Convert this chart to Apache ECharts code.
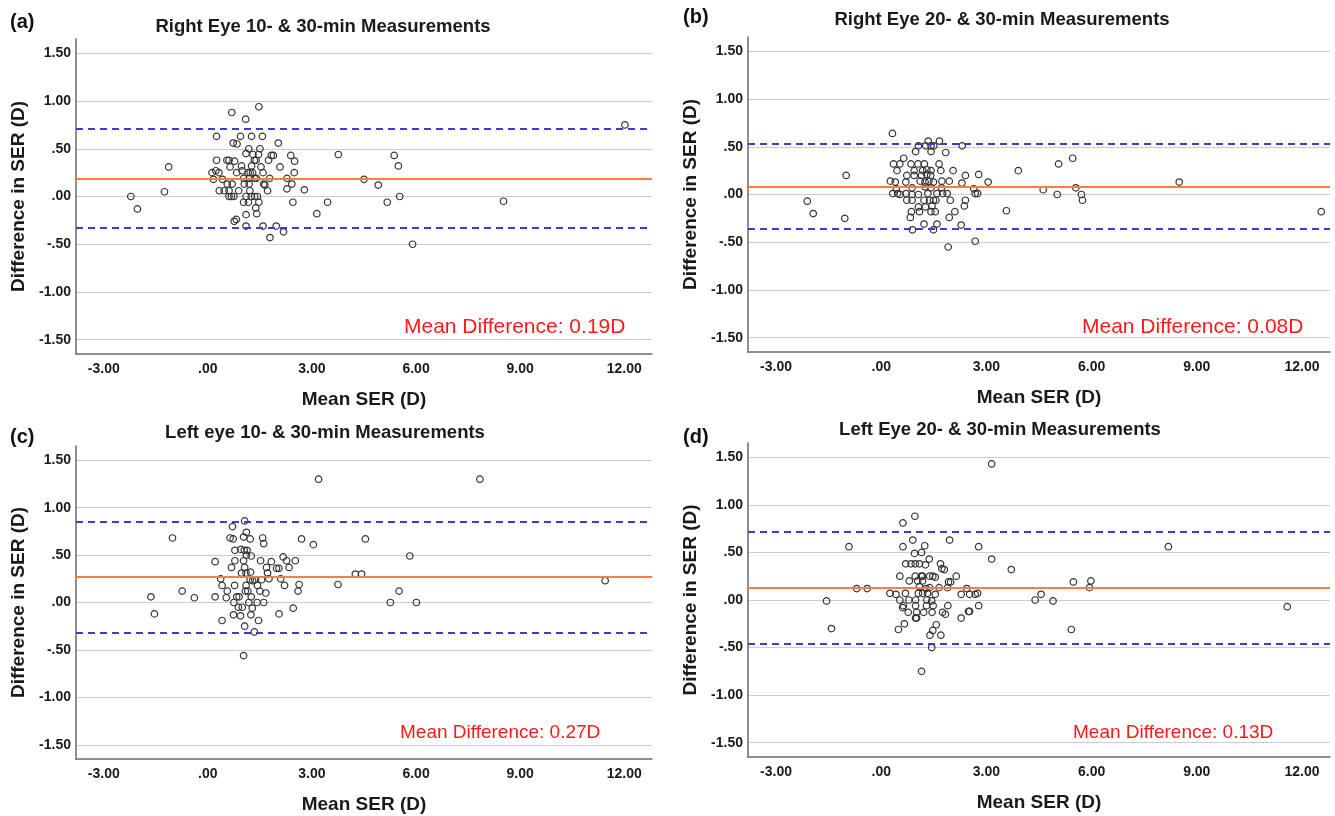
<!DOCTYPE html>
<html>
<head>
<meta charset="utf-8">
<script src="https://cdn.jsdelivr.net/npm/echarts@6/dist/echarts.min.js"></script>
<style>html,body{margin:0;padding:0;background:#fff;}#c{width:1335px;height:816px;}</style>
</head>
<body>
<div id="c"></div>
<script>
// ---------- DATA ----------
const panelLetters = ['(a)', '(b)', '(c)', '(d)'];
const panelTitles = [
  'Right Eye 10- & 30-min Measurements',
  'Right Eye 20- & 30-min Measurements',
  'Left eye 10- & 30-min Measurements',
  'Left Eye 20- & 30-min Measurements'
];
const xTicks = [-3, 0, 3, 6, 9, 12];
const yTicks = [-1.5, -1, -0.5, 0, 0.5, 1, 1.5];
const meanDiff = [0.19, 0.08, 0.27, 0.13];
const upperLoA = [0.71, 0.53, 0.85, 0.72];
const lowerLoA = [-0.33, -0.36, -0.32, -0.46];
const meanLabels = ['Mean Difference: 0.19D', 'Mean Difference: 0.08D', 'Mean Difference: 0.27D', 'Mean Difference: 0.13D'];

// Panel (a): mean SER (x) and difference (y)
const aMean = [1.47,0.69,1.09,0.25,0.94,1.26,1.57,0.73,0.84,2.03,1.18,1.50,1.10,1.30,1.46,1.83,1.89,2.39,3.76,0.25,0.55,0.61,0.77,1.34,1.39,1.75,2.50,-1.13,0.64,0.97,1.26,1.53,2.08,0.12,0.23,0.32,0.83,0.99,1.16,1.22,1.29,1.59,2.49,0.16,0.42,1.03,1.19,1.35,1.40,1.78,2.28,4.50,4.91,0.56,0.70,1.05,1.19,1.61,1.64,2.42,-1.25,0.33,0.47,0.61,0.89,1.21,1.72,2.28,2.78,-2.22,0.61,0.68,0.75,1.10,1.25,1.35,1.43,1.03,1.17,1.47,2.45,3.45,5.17,-2.03,1.38,1.41,1.10,3.14,0.76,0.82,1.10,1.59,1.97,2.18,1.79,5.37,5.49,5.53,5.90,8.52,12.02];
const aDiff = [0.94,0.88,0.81,0.63,0.63,0.63,0.63,0.56,0.55,0.56,0.50,0.50,0.45,0.44,0.44,0.43,0.43,0.43,0.44,0.38,0.38,0.38,0.37,0.38,0.38,0.38,0.37,0.31,0.31,0.32,0.32,0.31,0.31,0.25,0.27,0.25,0.25,0.27,0.25,0.25,0.25,0.25,0.25,0.18,0.18,0.19,0.19,0.19,0.19,0.19,0.19,0.18,0.12,0.13,0.13,0.13,0.13,0.13,0.12,0.13,0.05,0.06,0.06,0.06,0.06,0.06,0.06,0.08,0.07,0.00,0.00,0.00,0.00,0.00,0.00,0.00,0.00,-0.06,-0.06,-0.06,-0.06,-0.06,-0.06,-0.13,-0.12,-0.18,-0.19,-0.18,-0.26,-0.24,-0.31,-0.31,-0.31,-0.37,-0.43,0.43,0.32,0.00,-0.50,-0.05,0.75];

// Panel (b)
const bMean = [0.32,1.66,1.34,2.31,1.06,1.27,1.42,1.50,0.98,1.42,1.84,0.64,0.35,0.53,0.85,1.05,1.23,1.65,0.45,0.94,1.18,1.30,1.42,1.70,2.05,3.91,-1.00,0.73,0.94,1.15,1.30,1.41,2.40,2.78,0.26,0.40,0.70,1.11,1.25,1.36,1.49,1.73,1.94,2.30,3.05,0.88,1.25,1.42,1.72,0.43,2.64,0.33,0.47,0.54,0.71,0.88,1.06,1.33,1.59,1.75,1.88,2.68,2.75,4.62,5.02,0.73,0.88,1.22,1.38,1.49,1.56,1.97,2.40,-2.11,1.06,1.26,1.45,2.37,-1.94,0.86,1.09,1.42,1.54,2.10,3.57,-1.04,0.83,1.94,1.22,1.59,2.28,0.89,1.49,2.68,1.91,5.06,5.46,5.55,5.71,5.74,8.50,12.55];
const bDiff = [0.64,0.56,0.56,0.51,0.51,0.51,0.51,0.51,0.45,0.45,0.44,0.38,0.32,0.32,0.32,0.32,0.32,0.32,0.25,0.25,0.25,0.26,0.25,0.25,0.25,0.25,0.20,0.20,0.20,0.20,0.21,0.20,0.20,0.21,0.14,0.13,0.13,0.14,0.13,0.14,0.13,0.14,0.14,0.12,0.13,0.07,0.08,0.07,0.07,0.06,0.06,0.01,0.01,0.00,0.01,0.00,0.00,0.01,0.01,0.01,0.01,0.01,0.01,0.05,0.00,-0.06,-0.06,-0.06,-0.06,-0.06,-0.06,-0.06,-0.06,-0.07,-0.13,-0.13,-0.12,-0.12,-0.20,-0.18,-0.18,-0.18,-0.18,-0.18,-0.17,-0.25,-0.24,-0.24,-0.31,-0.31,-0.32,-0.37,-0.37,-0.49,-0.55,0.32,0.38,0.07,0.00,-0.06,0.13,-0.18];

// Panel (c)
const cMean = [3.19,1.06,0.71,1.11,-1.02,0.64,0.73,1.03,1.22,1.58,1.61,2.70,3.04,4.54,0.78,0.95,1.05,1.13,1.11,1.25,2.17,0.21,0.78,1.03,1.52,1.83,2.27,2.52,0.68,1.06,1.69,1.98,2.05,2.34,0.97,1.10,1.23,1.72,0.37,1.22,1.29,1.35,1.55,1.76,2.10,4.25,4.43,0.41,0.77,1.10,1.43,2.21,2.63,3.75,-1.64,-0.74,-0.39,0.21,0.53,0.56,0.83,0.90,1.08,1.15,1.25,1.50,1.67,2.60,0.75,1.18,1.42,1.61,5.26,0.88,0.99,1.28,2.46,-1.54,0.74,0.94,1.24,2.05,0.41,1.46,1.06,1.34,1.03,5.82,5.51,6.01,11.45,7.84];
const cDiff = [1.30,0.86,0.80,0.74,0.68,0.68,0.67,0.69,0.67,0.68,0.62,0.67,0.61,0.67,0.55,0.56,0.55,0.55,0.50,0.49,0.48,0.43,0.44,0.44,0.44,0.43,0.44,0.44,0.37,0.37,0.37,0.36,0.36,0.37,0.31,0.31,0.32,0.31,0.25,0.24,0.23,0.24,0.24,0.25,0.25,0.30,0.30,0.18,0.18,0.18,0.18,0.18,0.19,0.19,0.06,0.12,0.05,0.06,0.05,0.12,0.06,0.06,0.12,0.12,0.06,0.12,0.10,0.12,0.00,0.00,0.00,0.00,0.00,-0.05,-0.05,-0.06,-0.06,-0.12,-0.13,-0.14,-0.13,-0.12,-0.19,-0.19,-0.25,-0.31,-0.56,0.49,0.12,0.00,0.23,1.30];

// Panel (d)
const dMean = [3.15,0.96,0.62,0.90,1.95,-0.92,0.62,1.24,2.78,0.95,1.15,1.37,3.15,0.70,0.85,0.97,1.09,1.26,1.69,1.73,1.80,3.71,0.53,0.97,1.14,1.18,1.38,1.47,1.54,2.14,0.80,1.04,1.18,1.92,1.98,-0.70,-0.40,1.09,1.28,1.38,1.65,1.89,2.44,0.25,0.42,0.69,1.06,1.18,1.32,1.54,2.28,2.52,2.68,2.75,-1.56,0.53,0.79,0.98,1.30,1.44,4.39,4.56,4.90,0.63,0.98,1.29,1.48,1.90,2.78,0.61,0.77,1.01,1.21,1.45,1.75,1.83,2.49,2.52,0.98,1.01,2.28,1.57,0.66,-1.42,0.49,1.47,1.39,1.70,1.44,1.15,5.48,5.98,5.94,5.42,8.19,11.58];
const dDiff = [1.43,0.88,0.81,0.63,0.63,0.56,0.56,0.57,0.56,0.49,0.50,0.43,0.43,0.38,0.38,0.38,0.38,0.37,0.38,0.33,0.32,0.32,0.25,0.25,0.25,0.25,0.25,0.25,0.24,0.25,0.20,0.20,0.20,0.19,0.19,0.12,0.12,0.14,0.12,0.13,0.13,0.13,0.12,0.07,0.06,0.07,0.07,0.07,0.07,0.06,0.06,0.06,0.06,0.07,-0.01,0.00,0.00,0.00,0.00,-0.01,0.00,0.06,-0.01,-0.06,-0.06,-0.06,-0.06,-0.06,-0.06,-0.08,-0.13,-0.13,-0.13,-0.13,-0.13,-0.15,-0.12,-0.12,-0.19,-0.19,-0.19,-0.26,-0.25,-0.30,-0.31,-0.32,-0.37,-0.37,-0.50,-0.75,0.19,0.20,0.13,-0.31,0.56,-0.07];

const xSeries = [aMean, bMean, cMean, dMean];
const ySeries = [aDiff, bDiff, cDiff, dDiff];

// ---------- LAYOUT ----------
const FONT = "'Liberation Sans', Arial, Helvetica, sans-serif";
const grids = [
  {left: 76, top: 39, width: 576, height: 315},
  {left: 748, top: 37, width: 582, height: 315},
  {left: 76, top: 446, width: 576, height: 313},
  {left: 748, top: 443, width: 582, height: 314}
];
const X_MIN = -3.8, X_MAX = 12.8, Y_MIN = -1.65, Y_MAX = 1.65;

function fmt(v) {
  if (Math.abs(v) < 1e-9) return '.00';
  let s = Math.abs(v).toFixed(2);
  if (s.charAt(0) === '0') s = s.slice(1);
  return (v < 0 ? '-' : '') + s;
}

const xAxes = [], yAxes = [], series = [];
grids.forEach((g, i) => {
  xAxes.push({
    type: 'value', gridIndex: i, min: X_MIN, max: X_MAX,
    axisLine: {show: true, onZero: false, lineStyle: {color: '#6a6a6a', width: 1.5}},
    axisTick: {show: false, customValues: xTicks},
    axisLabel: {customValues: xTicks, formatter: fmt, fontFamily: FONT, fontWeight: 'bold', fontSize: 14, color: '#1a1a1a', margin: 8},
    splitLine: {show: false},
    name: 'Mean SER (D)', nameLocation: 'middle', nameGap: 36,
    nameTextStyle: {fontFamily: FONT, fontWeight: 'bold', fontSize: 19, color: '#1a1a1a'}
  });
  yAxes.push({
    type: 'value', gridIndex: i, min: Y_MIN, max: Y_MAX,
    axisLine: {show: true, onZero: false, lineStyle: {color: '#6a6a6a', width: 1.5}},
    axisTick: {show: false, customValues: yTicks},
    axisLabel: {customValues: yTicks, formatter: fmt, fontFamily: FONT, fontWeight: 'bold', fontSize: 14, color: '#1a1a1a', margin: 5},
    splitLine: {show: true, lineStyle: {color: '#cdcdcd', width: 1.2}},
    name: 'Difference in SER (D)', nameLocation: 'middle', nameGap: 48, nameRotate: 90,
    nameTextStyle: {fontFamily: FONT, fontWeight: 'bold', fontSize: 19, color: '#1a1a1a'}
  });
  series.push({
    type: 'scatter', xAxisIndex: i, yAxisIndex: i,
    data: xSeries[i].map((x, k) => [x, ySeries[i][k]]),
    symbol: 'circle', symbolSize: 6.5,
    itemStyle: {color: 'rgba(255,255,255,0)', borderColor: '#333333', borderWidth: 1.2, opacity: 1},
    emphasis: {disabled: true},
    markLine: {
      silent: true, symbol: 'none', animation: false, label: {show: false},
      data: [
        {yAxis: meanDiff[i], lineStyle: {color: '#ff7c45', width: 2, type: 'solid'}},
        {yAxis: upperLoA[i], lineStyle: {color: '#3b3bdc', width: 2, type: [7, 5]}},
        {yAxis: lowerLoA[i], lineStyle: {color: '#3b3bdc', width: 2, type: [7, 5]}}
      ]
    }
  });
});

const titleCenters = [[323, 27], [1002, 20], [325, 433], [1000, 430]];
const letterPos = [[10, 22], [683, 17], [10, 437], [683, 437]];
const meanTextPos = [[404, 327, 21], [1082, 327, 21], [400, 733, 19], [1073, 733, 19]];
const graphics = [];
for (let i = 0; i < 4; i++) {
  graphics.push({type: 'text', silent: true, style: {text: panelTitles[i], x: titleCenters[i][0], y: titleCenters[i][1], font: 'bold 18.5px ' + FONT, fill: '#1a1a1a', align: 'center', verticalAlign: 'middle', textAlign: 'center', textVerticalAlign: 'middle'}});
  graphics.push({type: 'text', silent: true, style: {text: panelLetters[i], x: letterPos[i][0], y: letterPos[i][1], font: 'bold 20px ' + FONT, fill: '#111', align: 'left', verticalAlign: 'middle', textAlign: 'left', textVerticalAlign: 'middle'}});
  graphics.push({type: 'text', silent: true, style: {text: meanLabels[i], x: meanTextPos[i][0], y: meanTextPos[i][1], font: meanTextPos[i][2] + 'px ' + FONT, fill: '#ff1a1a', align: 'left', verticalAlign: 'middle', textAlign: 'left', textVerticalAlign: 'middle'}});
}

const chart = echarts.init(document.getElementById('c'), null, {renderer: 'canvas'});
chart.setOption({
  backgroundColor: '#ffffff',
  animation: false,
  grid: grids,
  xAxis: xAxes,
  yAxis: yAxes,
  series: series,
  graphic: graphics
});
</script>
</body>
</html>
